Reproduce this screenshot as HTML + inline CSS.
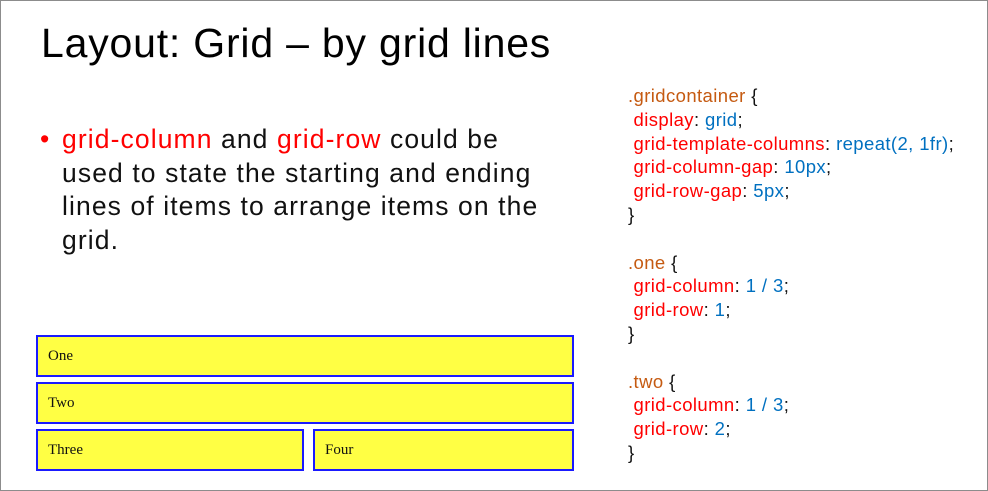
<!DOCTYPE html>
<html><head><style>
body{margin:0;width:988px;height:491px;background:#fff;position:relative;overflow:hidden;font-family:"Liberation Sans",sans-serif}
.frame{position:absolute;left:0;top:0;width:986px;height:489px;border:1px solid #8c8c8c}
.title{position:absolute;left:41px;top:20px;font-size:41px;letter-spacing:0.8px;color:#000;white-space:nowrap}
.bullet{position:absolute;left:62px;top:123px;width:560px;font-size:26.5px;letter-spacing:1.1px;line-height:33.7px;color:#111;white-space:nowrap}
.bullet:before{content:"•";color:#f00;position:absolute;left:-22px}
.r{color:#f00}.o{color:#c55a11}.b{color:#0070c0}
.code{position:absolute;left:628px;top:84px;font-size:18.5px;letter-spacing:0.4px;line-height:23.8px;color:#111;white-space:pre}
.box{position:absolute;background:#ffff44;border:2px solid #1a1aff;box-sizing:border-box;font-family:"Liberation Serif",serif;font-size:15px;color:#111;padding-left:10px;line-height:38px}
</style></head><body>
<div class="frame"></div>
<div class="title">Layout: Grid – by grid lines</div>
<div class="bullet"><span class="r">grid-column</span> and <span class="r">grid-row</span> could be<br>used to state the starting and ending<br>lines of items to arrange items on the<br>grid.</div>
<div class="code"><span class="o">.gridcontainer</span> {
 <span class="r">display</span>: <span class="b">grid</span>;
 <span class="r">grid-template-columns</span>: <span class="b">repeat(2, 1fr)</span>;
 <span class="r">grid-column-gap</span>: <span class="b">10px</span>;
 <span class="r">grid-row-gap</span>: <span class="b">5px</span>;
}

<span class="o">.one</span> {
 <span class="r">grid-column</span>: <span class="b">1 / 3</span>;
 <span class="r">grid-row</span>: <span class="b">1</span>;
}

<span class="o">.two</span> {
 <span class="r">grid-column</span>: <span class="b">1 / 3</span>;
 <span class="r">grid-row</span>: <span class="b">2</span>;
}</div>
<div class="box" style="left:36px;top:335px;width:538px;height:42px">One</div>
<div class="box" style="left:36px;top:382px;width:538px;height:42px">Two</div>
<div class="box" style="left:36px;top:429px;width:268px;height:42px">Three</div>
<div class="box" style="left:313px;top:429px;width:261px;height:42px">Four</div>
</body></html>
